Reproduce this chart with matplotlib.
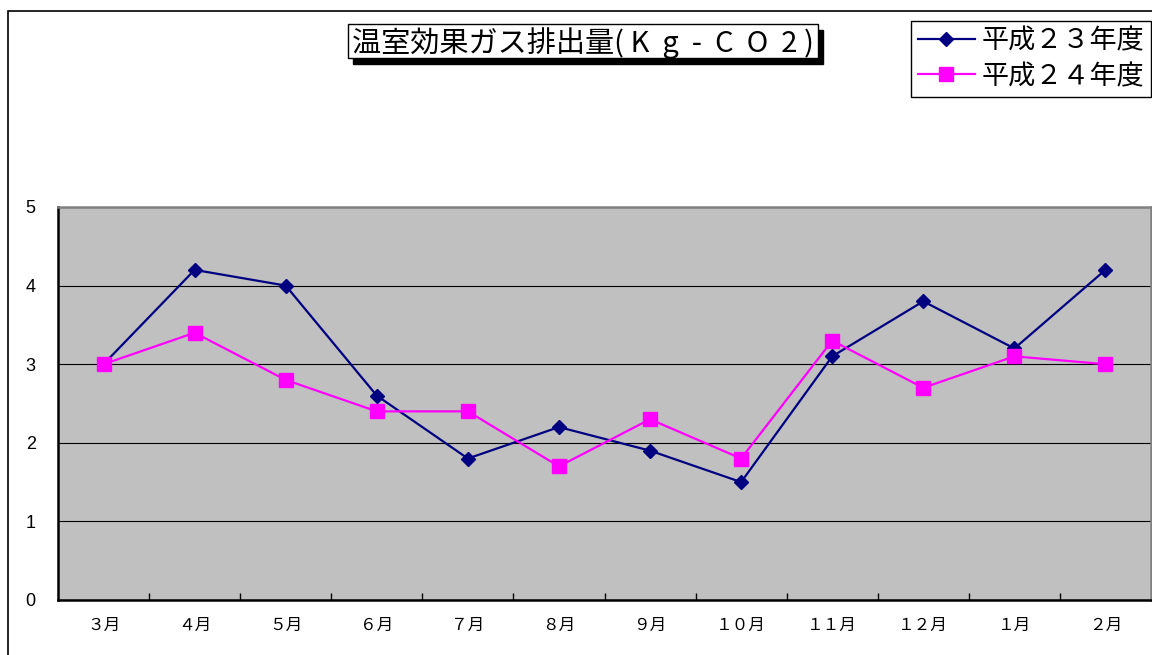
import matplotlib
matplotlib.use("Agg")
import matplotlib.pyplot as plt
from matplotlib.patches import Rectangle
import numpy as np

plt.rcParams['font.family'] = ['Noto Sans CJK JP', 'DejaVu Sans']

# data
months = ["３月", "４月", "５月", "６月", "７月", "８月", "９月", "１０月", "１１月", "１２月", "１月", "２月"]
h23 = [3.0, 4.2, 4.0, 2.6, 1.8, 2.2, 1.9, 1.5, 3.1, 3.8, 3.2, 4.2]
h24 = [3.0, 3.4, 2.8, 2.4, 2.4, 1.7, 2.3, 1.8, 3.3, 2.7, 3.1, 3.0]
series_names = ["平成２３年度", "平成２４年度"]
title = "温室効果ガス排出量( K  g  -  C  O  2 )"

W, H = 1152, 655
fig = plt.figure(figsize=(W / 100, H / 100), dpi=100)


def fx(px):
    return px / W


def fy(py):
    return 1 - py / H


# outer chart border (right/bottom run off the image)
fig.patches.append(Rectangle((fx(8), fy(700)), fx(1200), fy(11) - fy(700),
                             transform=fig.transFigure, fill=False,
                             edgecolor="black", linewidth=1.2, clip_on=False))

ax = fig.add_axes([fx(58), fy(600), fx(1151) - fx(58), fy(207) - fy(600)])
ax.set_facecolor("#C0C0C0")

x = np.arange(len(months))
l1, = ax.plot(x, h23, color="#000080", linewidth=1.6, marker="D", markersize=7,
              markerfacecolor="#000080", markeredgecolor="#000080", zorder=3)
l2, = ax.plot(x, h24, color="#FF00FF", linewidth=1.6, marker="s", markersize=10,
              markerfacecolor="#FF00FF", markeredgecolor="#FF00FF", zorder=4)

ax.set_xlim(-0.5, len(months) - 0.5)
ax.set_ylim(0, 5)
ax.set_yticks(range(6))
ax.set_yticklabels([str(v) for v in range(6)], family="Liberation Sans", fontsize=13)
ax.tick_params(axis="y", length=0, pad=16)
ax.yaxis.grid(True, color="black", linewidth=0.8)
ax.set_axisbelow(True)

ax.set_xticks(x)
ax.set_xticklabels(months, fontsize=12)
ax.tick_params(axis="x", which="major", length=0, pad=12)
ax.set_xticks(np.arange(0.5, len(months) - 0.5, 1), minor=True)
ax.tick_params(axis="x", which="minor", direction="in", length=5, width=1, color="black")

for side in ("left", "bottom"):
    ax.spines[side].set_color("black")
    ax.spines[side].set_linewidth(1.8)
for side in ("top", "right"):
    ax.spines[side].set_color("#808080")
    ax.spines[side].set_linewidth(1.8)

# title box with drop shadow
fig.patches.append(Rectangle((fx(353), fy(64)), fx(470), fy(24) - fy(58),
                             transform=fig.transFigure, facecolor="black",
                             edgecolor="black", zorder=1))
fig.patches.append(Rectangle((fx(348), fy(58)), fx(470), fy(24) - fy(58),
                             transform=fig.transFigure, facecolor="white",
                             edgecolor="black", linewidth=1, zorder=2))
fig.text(fx(583), fy(43), title, ha="center", va="center", fontsize=21, zorder=3)

# legend
leg = fig.legend([l1, l2], series_names, loc="upper left",
                 bbox_to_anchor=(fx(911), fy(21)), fontsize=19.5,
                 fancybox=False, edgecolor="black", framealpha=1,
                 handlelength=2.1, handletextpad=0.25, borderpad=0.25,
                 labelspacing=0.3, borderaxespad=0)
leg.get_frame().set_linewidth(1)

fig.savefig("out.png", dpi=100)
